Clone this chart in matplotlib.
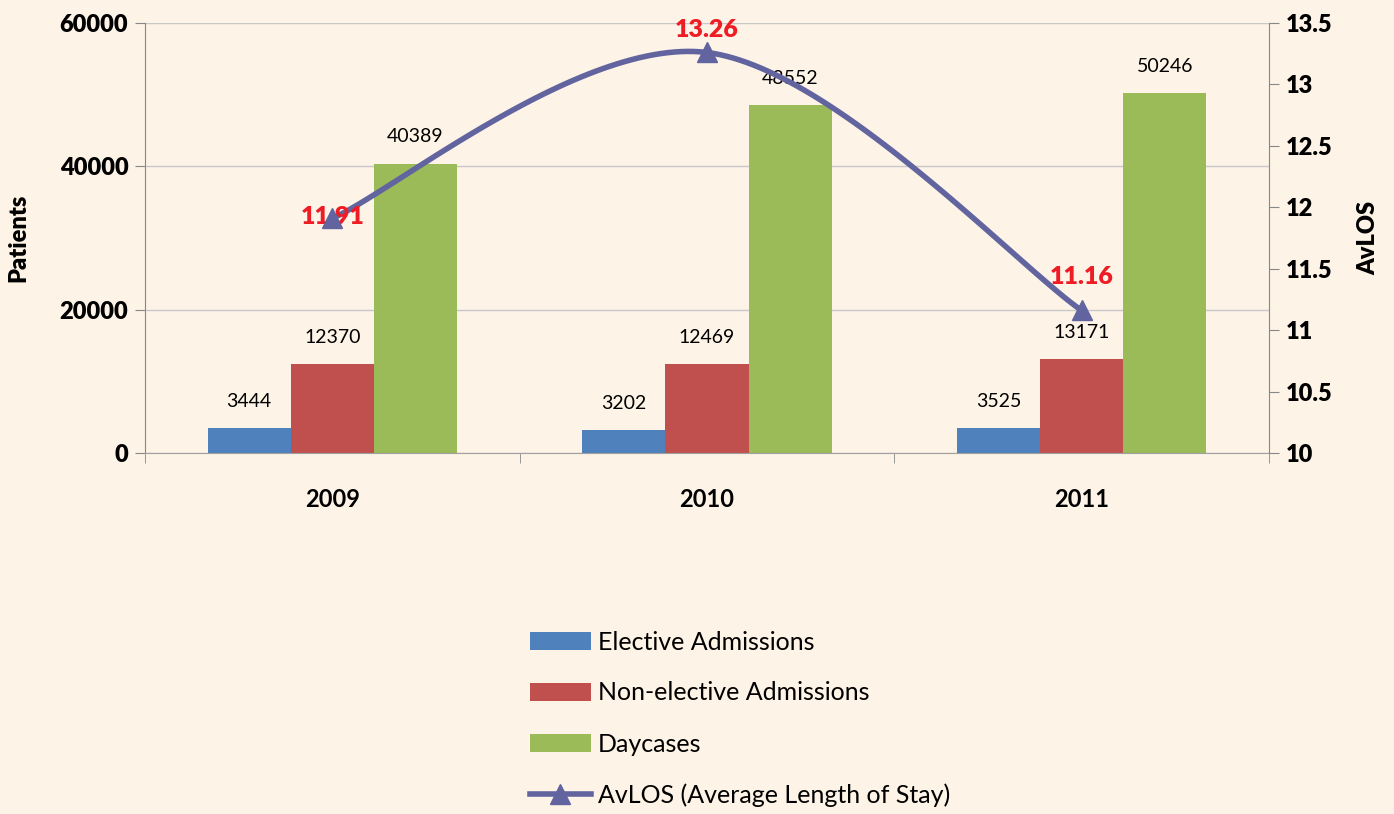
import numpy as np
import matplotlib
matplotlib.use("Agg")
import matplotlib.pyplot as plt
from matplotlib.patches import Patch
from matplotlib.lines import Line2D

years = ["2009", "2010", "2011"]
elective = [3444, 3202, 3525]
non_elective = [12370, 12469, 13171]
daycases = [40389, 48552, 50246]
avlos = [11.91, 13.26, 11.16]

plt.rcParams['font.family'] = ['Lato', 'DejaVu Sans']

bg = "#FDF3E6"
c_blue = "#4F81BD"
c_red = "#C0504D"
c_green = "#9BBB59"
c_line = "#6264A0"
c_lab = "#EE1C25"

fig = plt.figure(figsize=(13.94, 8.14), dpi=100, facecolor=bg)
ax = fig.add_axes([145/1394, 1-453/814, (1269-145)/1394, (453-23)/814])
ax.set_facecolor(bg)

x = np.arange(len(years))
w = 0.222
series = [(elective, c_blue, "Elective Admissions"),
          (non_elective, c_red, "Non-elective Admissions"),
          (daycases, c_green, "Daycases")]
for i, (vals, col, name) in enumerate(series):
    pos = x + (i - 1) * w
    ax.bar(pos, vals, width=w, color=col, zorder=2)
    for p, v in zip(pos, vals):
        ax.annotate(str(v), (p, v), xytext=(0, 13), textcoords="offset points",
                    ha="center", va="bottom", fontsize=14)

ax.set_xlim(-0.5, 2.5)
ax.set_ylim(0, 60000)
ax.set_yticks([0, 20000, 40000, 60000])
ax.grid(axis="y", color="#C8C8C8", linewidth=1, zorder=0)
ax.set_xticks(x)
ax.set_xticklabels(years, fontsize=17, fontweight="bold")
ax.set_xticks([-0.5, 0.5, 1.5, 2.5], minor=True)
ax.tick_params(axis="x", which="major", length=0, pad=25)
ax.tick_params(axis="x", which="minor", length=7, color="#888888", direction="out")
ax.tick_params(axis="y", length=7, color="#888888", labelsize=17, pad=5)
for lab in ax.get_yticklabels():
    lab.set_fontweight("heavy")
for s in ["top", "right"]:
    ax.spines[s].set_visible(False)
ax.spines["left"].set_color("#888888")
ax.spines["bottom"].set_color("#A0A0A0")
ax.set_ylabel("Patients", fontsize=17, fontweight="heavy", labelpad=22)

# secondary axis for AvLOS
ax2 = ax.twinx()
ax2.set_ylim(10, 13.5)
ax2.set_yticks([10, 10.5, 11, 11.5, 12, 12.5, 13, 13.5])
ax2.set_yticklabels(["10", "10.5", "11", "11.5", "12", "12.5", "13", "13.5"])
ax2.tick_params(axis="y", length=7, color="#888888", labelsize=17, pad=5)
for lab in ax2.get_yticklabels():
    lab.set_fontweight("heavy")
for s in ["top", "left", "bottom"]:
    ax2.spines[s].set_visible(False)
ax2.spines["right"].set_color("#888888")
ax2.set_ylabel("AvLOS", fontsize=17, fontweight="heavy", labelpad=18)

# smoothed line (Catmull-Rom through the data points)
px = x.astype(float)
py = np.array(avlos)
P = np.column_stack([px, py])
ext = np.vstack([P[0], P, P[-1]])
cx, cy = [], []
t = np.linspace(0, 1, 60)
for k in range(1, len(ext) - 2):
    p0, p1, p2, p3 = ext[k-1], ext[k], ext[k+1], ext[k+2]
    m1 = (p2 - p0) / 2
    m2 = (p3 - p1) / 2
    h00 = 2*t**3 - 3*t**2 + 1
    h10 = t**3 - 2*t**2 + t
    h01 = -2*t**3 + 3*t**2
    h11 = t**3 - t**2
    seg = (np.outer(h00, p1) + np.outer(h10, m1) + np.outer(h01, p2) + np.outer(h11, m2))
    cx.extend(seg[:, 0]); cy.extend(seg[:, 1])
ax2.plot(cx, cy, color=c_line, linewidth=4, solid_capstyle="round", zorder=3)
ax2.plot(px, py, linestyle="none", marker="^", markersize=15, color=c_line, zorder=4)
offsets = [(0, -7), (0, 8), (0, 16)]
for xi, yi, off in zip(px, py, offsets):
    ax2.annotate(f"{yi:.2f}", (xi, yi), xytext=off, textcoords="offset points",
                 ha="center", va="bottom", fontsize=18, fontweight="heavy", color=c_lab)

handles = [Patch(facecolor=c_blue), Patch(facecolor=c_red), Patch(facecolor=c_green),
           Line2D([0], [0], color=c_line, linewidth=4, marker="^", markersize=15)]
labels = ["Elective Admissions", "Non-elective Admissions", "Daycases",
          "AvLOS (Average Length of Stay)"]
fig.legend(handles, labels, loc="upper left", bbox_to_anchor=(507/1394, 1-608/814),
           frameon=False, fontsize=18, handlelength=2.45, handleheight=0.75,
           labelspacing=1.12, handletextpad=0.3, numpoints=1)

fig.savefig("out.png", dpi=100, facecolor=bg)
